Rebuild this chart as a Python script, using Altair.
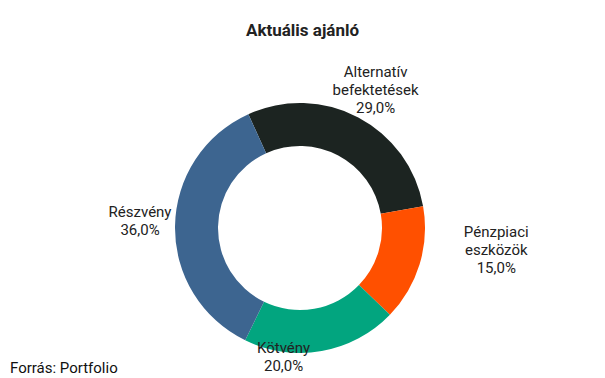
import altair as alt
import pandas as pd
import math

categories = ["Alternatív befektetések", "Pénzpiaci eszközök", "Kötvény", "Részvény"]
label_lines = ["Alternatív\nbefektetések", "Pénzpiaci\neszközök", "Kötvény", "Részvény"]
values = [29.0, 15.0, 20.0, 36.0]
colors = ["#1c2421", "#ff5000", "#02a57f", "#3d6590"]
order = [0, 1, 2, 3]

df = pd.DataFrame({"category": categories, "label": label_lines,
                   "value": values, "order": order})

start = 2 * math.pi - math.radians(24.4)
theta_scale = alt.Scale(domain=[0, 100], range=[start, start + 2 * math.pi])
color_scale = alt.Scale(domain=categories, range=colors)

CX, CY = 300, 188

base = alt.Chart(df).transform_window(
    cum="sum(value)", sort=[alt.SortField("order")]
).transform_calculate(
    mid="datum.cum - datum.value / 2",
    text="datum.label + '\\n' + replace(format(datum.value, '.1f'), '.', ',') + '%'"
)

arc = alt.Chart(df).mark_arc(outerRadius=125, innerRadius=82).encode(
    theta=alt.Theta("value:Q", stack=True, scale=theta_scale),
    order=alt.Order("order:Q"),
    color=alt.Color("category:N", scale=color_scale, legend=None),
    x=alt.value(CX), y=alt.value(CY),
)

label_specs = {
    "Alternatív befektetések": dict(radius=160, dx=1, dy=-14),
    "Pénzpiaci eszközök": dict(radius=200, dx=5, dy=-54),
    "Kötvény": dict(radius=130, dx=-39, dy=-8),
    "Részvény": dict(radius=165, dx=5, dy=-14),
}

layers = [arc]
for cat, spec in label_specs.items():
    t = base.transform_filter(alt.datum.category == cat).mark_text(
        font="Roboto", fontSize=15, color="#222222", lineBreak="\n",
        lineHeight=18, align="center", baseline="middle",
        dx=spec["dx"], dy=spec["dy"]
    ).encode(
        theta=alt.Theta("mid:Q", scale=theta_scale),
        radius=alt.value(spec["radius"]),
        text="text:N",
        x=alt.value(CX), y=alt.value(CY),
    )
    layers.append(t)

source = alt.Chart(pd.DataFrame({"t": ["Forrás: Portfolio"]})).mark_text(
    font="Roboto", fontSize=15, color="#111111", align="left", baseline="alphabetic"
).encode(text="t:N", x=alt.value(10), y=alt.value(333))
layers.append(source)

chart = alt.layer(*layers).properties(
    width=605, height=338,
    title=alt.TitleParams("Aktuális ajánló", font="Roboto", fontSize=17,
                          fontWeight="bold", color="#222222", anchor="middle",
                          offset=0),
    autosize=alt.AutoSizeParams(type="none"),
    padding={"top": 40, "left": 0, "right": 0, "bottom": 0},
).configure_view(stroke=None)

chart.save("out.html", embed_options={"renderer": "svg", "actions": False})
